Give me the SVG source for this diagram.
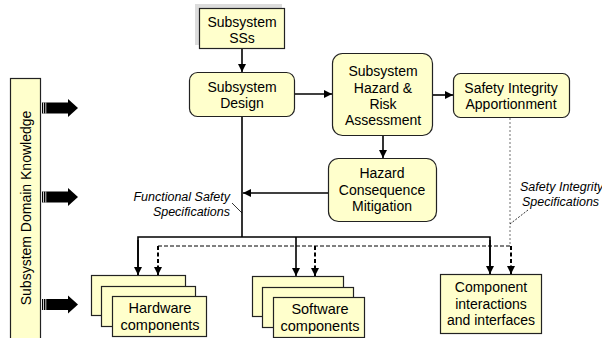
<svg xmlns="http://www.w3.org/2000/svg" width="602" height="338" viewBox="0 0 602 338">
<defs>
<marker id="ah" markerUnits="userSpaceOnUse" markerWidth="8" markerHeight="8" refX="8" refY="4" orient="auto"><path d="M0,0 L8,4 L0,8 z" fill="#000"/></marker>
<g id="bigArrow">
<rect x="42" y="-5.5" width="27" height="11" fill="#000"/>
<path d="M68,-9 L78,0 L68,9 z" fill="#000"/>
<line x1="43.5" y1="-5.5" x2="43.5" y2="5.5" stroke="#fff" stroke-width="0.8"/>
<line x1="45.8" y1="-5.5" x2="45.8" y2="5.5" stroke="#fff" stroke-width="0.8"/>
</g>
</defs>
<style>
.box{fill:#ffffcc;stroke:#222;stroke-width:1.2}
.t{font-family:"Liberation Sans",Arial,sans-serif;font-size:14px;fill:#000;text-anchor:middle}
.ts{font-family:"Liberation Sans",Arial,sans-serif;font-size:14.5px;fill:#000;text-anchor:middle}
.it{font-family:"Liberation Sans",Arial,sans-serif;font-size:12.5px;font-style:italic;fill:#000}
.c{fill:none;stroke:#000;stroke-width:1.6}
.cd{fill:none;stroke:#000;stroke-width:2;stroke-dasharray:4,2.5}
.hd{fill:none;stroke:#000;stroke-width:1;stroke-dasharray:4,2}
.gd{fill:none;stroke:#888;stroke-width:1.2;stroke-dasharray:2,2}
</style>
<rect width="602" height="338" fill="#fff"/>

<g id="domain-knowledge">
<rect class="box" x="10.5" y="78.5" width="30" height="262"/>
<text class="t" transform="translate(31,208) rotate(-90)">Subsystem Domain Knowledge</text>
<use href="#bigArrow" transform="translate(0,108)"/>
<use href="#bigArrow" transform="translate(0,197)"/>
<use href="#bigArrow" transform="translate(0,304.5)"/>
</g>

<g id="subsystem-sss">
<rect x="195" y="4" width="87" height="41" fill="#dcdcdc"/>
<rect class="box" x="199.5" y="8.5" width="85" height="40"/>
<text class="t" x="242" y="27">Subsystem</text>
<text class="t" x="242" y="43">SSs</text>
</g>

<g id="subsystem-design">
<rect class="box" x="189.5" y="72.5" width="105" height="44" rx="8"/>
<text class="t" x="242" y="92">Subsystem</text>
<text class="t" x="242" y="108">Design</text>
</g>

<g id="hazard-risk">
<rect class="box" x="332.5" y="53.5" width="100" height="82" rx="10"/>
<text class="t" x="383" y="76">Subsystem</text>
<text class="t" x="383" y="93">Hazard &amp;</text>
<text class="t" x="383" y="109">Risk</text>
<text class="t" x="383" y="125">Assessment</text>
</g>

<g id="safety-integrity">
<rect class="box" x="453.5" y="73.5" width="116" height="44" rx="7"/>
<text class="t" x="511" y="93">Safety Integrity</text>
<text class="t" x="511" y="109">Apportionment</text>
</g>

<g id="hazard-consequence">
<rect class="box" x="328.5" y="158.5" width="108" height="63" rx="10"/>
<text class="t" x="382" y="178">Hazard</text>
<text class="t" x="382" y="195">Consequence</text>
<text class="t" x="382" y="211">Mitigation</text>
</g>

<g id="hardware">
<rect class="box" x="91.5" y="275.5" width="94" height="40"/>
<rect class="box" x="101.5" y="286.5" width="94" height="40"/>
<rect class="box" x="112.5" y="296.5" width="94" height="40"/>
<text class="ts" x="160" y="313">Hardware</text>
<text class="ts" x="160" y="330">components</text>
</g>

<g id="software">
<rect class="box" x="252.5" y="276.5" width="91" height="40"/>
<rect class="box" x="262.5" y="287.5" width="91" height="40"/>
<rect class="box" x="273.5" y="297.5" width="91" height="40"/>
<text class="ts" x="320" y="314">Software</text>
<text class="ts" x="320" y="331">components</text>
</g>

<g id="component-interactions">
<rect class="box" x="440.5" y="274.5" width="101" height="59"/>
<text class="t" x="491" y="292">Component</text>
<text class="t" x="491" y="309">interactions</text>
<text class="t" x="491" y="325">and interfaces</text>
</g>

<g id="connectors">
<line class="c" x1="242" y1="49" x2="242" y2="72" marker-end="url(#ah)"/>
<line class="c" x1="295" y1="94" x2="332" y2="94" marker-end="url(#ah)"/>
<line class="c" x1="433" y1="95" x2="453" y2="95" marker-end="url(#ah)"/>
<line class="c" x1="383" y1="136" x2="383" y2="158" marker-end="url(#ah)"/>
<line class="c" x1="328" y1="193" x2="243" y2="193" marker-end="url(#ah)"/>
<line class="c" x1="242" y1="117" x2="242" y2="237"/>
<polyline class="c" points="138,275 138,237 490,237 490,274"/>
<line class="c" x1="138" y1="240" x2="138" y2="275" marker-end="url(#ah)"/>
<line class="c" x1="296" y1="237" x2="296" y2="276" marker-end="url(#ah)"/>
<line class="c" x1="490" y1="240" x2="490" y2="274" marker-end="url(#ah)"/>
<line class="gd" x1="510" y1="118" x2="510" y2="246"/>
<line class="hd" x1="158" y1="246" x2="511" y2="246"/>
<line class="cd" x1="158" y1="246" x2="158" y2="275" marker-end="url(#ah)"/>
<line class="cd" x1="315" y1="246" x2="315" y2="276" marker-end="url(#ah)"/>
<line class="cd" x1="511" y1="246" x2="511" y2="274" marker-end="url(#ah)"/>
<line x1="232" y1="203" x2="242" y2="213" stroke="#000" stroke-width="0.8"/>
<line x1="528" y1="210" x2="510" y2="224" stroke="#000" stroke-width="0.8" stroke-dasharray="2,1.5"/>
</g>

<g id="labels">
<text class="it" x="230" y="201" text-anchor="end">Functional Safety</text>
<text class="it" x="230" y="216" text-anchor="end">Specifications</text>
<text class="it" x="520" y="191">Safety Integrity</text>
<text class="it" x="522" y="206">Specifications</text>
</g>
</svg>
